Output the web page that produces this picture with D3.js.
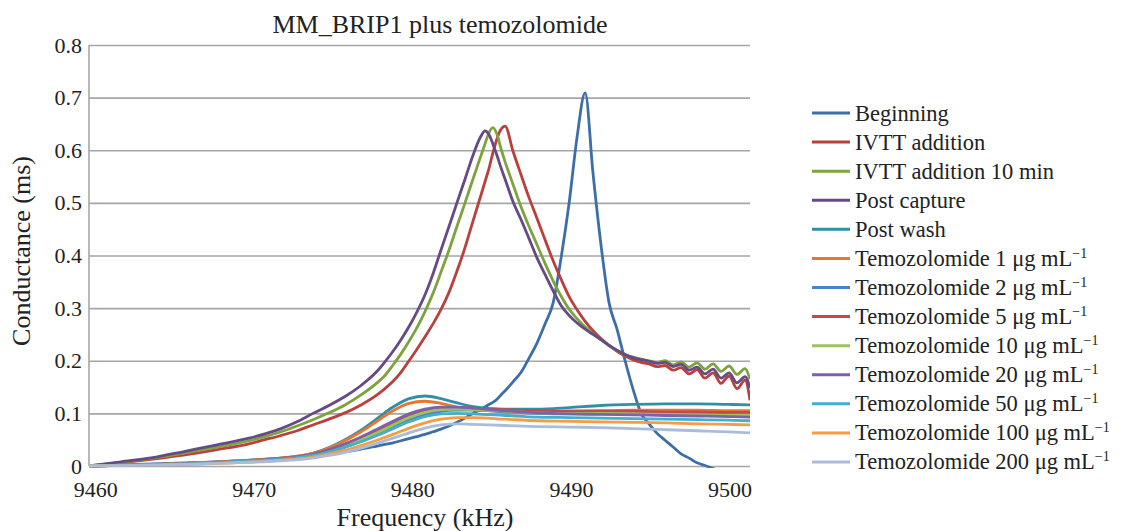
<!DOCTYPE html>
<html>
<head>
<meta charset="utf-8">
<script src="https://cdn.jsdelivr.net/npm/d3@7"></script>
<style>
  body { margin: 0; background: #fff; }
  svg { display: block; }
  text { font-family: 'Liberation Serif', 'Times New Roman', Tinos, 'DejaVu Serif', 'Noto Serif', serif; fill: #222; }
</style>
</head>
<body>
<svg id="chart"></svg>
<script>
const serif = "'Liberation Serif', 'Times New Roman', Tinos, 'DejaVu Serif', 'Noto Serif', serif";

// frequency grid (kHz) for the four large resonance curves
const freq = [9459.6, 9461.62, 9463.64, 9465.66, 9467.68, 9469.7, 9470.7, 9471.71, 9472.72, 9473.73, 9474.74, 9475.75, 9476.76, 9477.77,
  9478.27, 9478.78, 9479.28, 9479.79, 9480.29, 9480.79, 9481.3, 9481.8, 9482.31, 9482.81, 9483.32, 9483.82, 9484.33,
  9484.58, 9484.83, 9485.08, 9485.34, 9485.59, 9485.85,
  9486.35, 9486.86, 9487.36, 9487.87, 9488.37, 9488.88, 9489.38, 9489.89, 9490.39, 9490.9,
  9491.4, 9491.9, 9492.41, 9492.91, 9493.42, 9493.92, 9494.43, 9494.93, 9495.44, 9495.94,
  9496.45, 9496.95, 9497.46, 9497.96, 9498.46, 9498.97, 9499.47, 9499.98, 9500.48, 9500.99,
  9501.3];

const beginning = [0, 0.002, 0.004, 0.006, 0.008, 0.011, 0.013, 0.015, 0.017, 0.019, 0.023, 0.027, 0.032, 0.038,
  0.041, 0.044, 0.048, 0.052, 0.056, 0.06, 0.065, 0.07, 0.076, 0.083, 0.091, 0.1, 0.108,
  0.112, 0.117, 0.121, 0.127, 0.135, 0.143,
  0.16, 0.178, 0.205, 0.234, 0.27, 0.31, 0.395, 0.5, 0.625, 0.709,
  0.555, 0.42, 0.31, 0.26, 0.2, 0.146, 0.1, 0.08, 0.062, 0.049,
  0.036, 0.023, 0.015, 0.006, 0.001, -0.005, -0.01, -0.015, -0.02, -0.024,
  -0.026];

const ivtt = [0, 0.006, 0.013, 0.021, 0.031, 0.042, 0.05, 0.058, 0.067, 0.078, 0.089, 0.101, 0.116, 0.135,
  0.147, 0.161, 0.178, 0.2, 0.222, 0.245, 0.27, 0.297, 0.33, 0.37, 0.415, 0.465, 0.515,
  0.54, 0.565, 0.595, 0.622, 0.64, 0.646,
  0.598, 0.553, 0.51, 0.47, 0.43, 0.39, 0.355, 0.322, 0.297, 0.275,
  0.257, 0.242, 0.229, 0.218, 0.209, 0.202, 0.197, 0.194, 0.189, 0.191,
  0.182, 0.187, 0.175, 0.183, 0.167, 0.177, 0.157, 0.171, 0.147, 0.163,
  0.125];

const ivtt10 = [0, 0.007, 0.015, 0.025, 0.036, 0.048, 0.056, 0.065, 0.076, 0.088, 0.101, 0.116, 0.135, 0.158,
  0.172, 0.192, 0.213, 0.237, 0.263, 0.293, 0.328, 0.368, 0.41, 0.455, 0.5, 0.545, 0.59,
  0.612, 0.633, 0.643, 0.63, 0.603, 0.578,
  0.535, 0.492, 0.455, 0.42, 0.385, 0.352, 0.323, 0.298, 0.28, 0.264,
  0.251, 0.24, 0.229, 0.219, 0.212, 0.207, 0.203, 0.2, 0.197, 0.2,
  0.192, 0.198, 0.188, 0.196, 0.184, 0.194, 0.18, 0.19, 0.174, 0.185,
  0.165];

const postCapture = [0, 0.008, 0.016, 0.028, 0.04, 0.053, 0.061, 0.071, 0.084, 0.1, 0.115, 0.132, 0.153, 0.18,
  0.198, 0.218, 0.24, 0.265, 0.293, 0.325, 0.365, 0.41, 0.455, 0.5, 0.545, 0.59, 0.627,
  0.637, 0.63, 0.612, 0.59, 0.567, 0.545,
  0.502, 0.468, 0.432, 0.395, 0.364, 0.333, 0.305, 0.286, 0.272, 0.26,
  0.25, 0.24, 0.229, 0.22, 0.212, 0.206, 0.202, 0.199, 0.195, 0.197,
  0.189, 0.193, 0.182, 0.188, 0.175, 0.184, 0.167, 0.177, 0.158, 0.17,
  0.148];

// coarser frequency grid for the flat, low curves
const freqLow = [9459.6, 9462.63, 9465.66, 9468.69, 9471.71, 9473.73, 9474.74, 9475.75, 9476.76, 9477.77, 9478.78, 9479.79, 9480.79,
  9481.8, 9482.81, 9483.82, 9485.85, 9487.87, 9489.89, 9491.9, 9493.92, 9495.94, 9497.96, 9499.98, 9501.3];

const postWash = [0, 0.002, 0.005, 0.009, 0.015, 0.024, 0.035, 0.05, 0.068, 0.09, 0.112, 0.128, 0.133,
  0.128, 0.12, 0.113, 0.108, 0.108, 0.111, 0.115, 0.117, 0.118, 0.118, 0.117, 0.116];
const temo1 = [0, 0.002, 0.005, 0.009, 0.015, 0.024, 0.034, 0.048, 0.065, 0.085, 0.105, 0.119, 0.123,
  0.119, 0.112, 0.107, 0.104, 0.103, 0.104, 0.105, 0.106, 0.106, 0.106, 0.105, 0.105];
const temo2 = [0, 0.002, 0.004, 0.008, 0.013, 0.02, 0.027, 0.036, 0.047, 0.06, 0.074, 0.088, 0.098,
  0.104, 0.106, 0.106, 0.103, 0.1, 0.099, 0.099, 0.099, 0.098, 0.097, 0.096, 0.095];
const temo5 = [0, 0.002, 0.004, 0.008, 0.014, 0.022, 0.03, 0.04, 0.052, 0.066, 0.081, 0.095, 0.105,
  0.11, 0.111, 0.11, 0.107, 0.105, 0.104, 0.104, 0.104, 0.103, 0.103, 0.102, 0.102];
const temo10 = [0, 0.002, 0.004, 0.008, 0.013, 0.021, 0.029, 0.038, 0.05, 0.063, 0.078, 0.092, 0.102,
  0.107, 0.108, 0.107, 0.104, 0.101, 0.1, 0.1, 0.099, 0.098, 0.097, 0.096, 0.096];
const temo20 = [0, 0.002, 0.004, 0.008, 0.014, 0.022, 0.031, 0.042, 0.055, 0.07, 0.085, 0.099, 0.108,
  0.112, 0.112, 0.11, 0.105, 0.101, 0.099, 0.098, 0.097, 0.096, 0.095, 0.094, 0.093];
const temo50 = [0, 0.002, 0.004, 0.008, 0.013, 0.02, 0.027, 0.036, 0.046, 0.058, 0.071, 0.084, 0.094,
  0.099, 0.1, 0.099, 0.096, 0.093, 0.092, 0.091, 0.09, 0.089, 0.088, 0.087, 0.086];
const temo100 = [0, 0.001, 0.003, 0.006, 0.011, 0.017, 0.023, 0.03, 0.039, 0.049, 0.06, 0.072, 0.082,
  0.089, 0.092, 0.092, 0.089, 0.086, 0.085, 0.084, 0.083, 0.082, 0.08, 0.079, 0.078];
const temo200 = [0, 0.001, 0.003, 0.006, 0.01, 0.015, 0.02, 0.026, 0.034, 0.043, 0.053, 0.063, 0.072,
  0.078, 0.08, 0.079, 0.077, 0.075, 0.074, 0.073, 0.071, 0.069, 0.067, 0.065, 0.063];

const doses = [1, 2, 5, 10, 20, 50, 100, 200];
const stageNames = ['Beginning', 'IVTT addition', 'IVTT addition 10 min', 'Post capture', 'Post wash'];
const colors = ['#3d6ea8', '#b8403d', '#7da33f', '#654a84', '#2f90a8', '#e8762e', '#4f7fc8',
  '#c6494a', '#9cc45a', '#7e62a8', '#42aed0', '#f99a45', '#a9bdda'];

const xTicks = [9460, 9470, 9480, 9490, 9500];
const yTicks = [0, 0.1, 0.2, 0.3, 0.4, 0.5, 0.6, 0.7, 0.8];

const series = [
  {x: freq, v: beginning}, {x: freq, v: ivtt}, {x: freq, v: ivtt10}, {x: freq, v: postCapture},
  {x: freqLow, v: postWash}, {x: freqLow, v: temo1}, {x: freqLow, v: temo2}, {x: freqLow, v: temo5},
  {x: freqLow, v: temo10}, {x: freqLow, v: temo20}, {x: freqLow, v: temo50}, {x: freqLow, v: temo100},
  {x: freqLow, v: temo200}
];
const labels = stageNames.map(n => ({text: n, sup: ''}))
  .concat(doses.map(d => ({text: 'Temozolomide ' + d + ' \u03bcg mL', sup: '\u22121'})));

const margin = {top: 45, bottom: 65, left: 89, right: 374};
const W = 1124, H = 531;
const width = W - margin.left - margin.right;
const height = H - margin.top - margin.bottom;

const root = d3.select('#chart')
  .attr('width', W)
  .attr('height', H);

root.append('text')
  .attr('x', 440)
  .attr('y', 33)
  .attr('text-anchor', 'middle')
  .style('font-size', '26px')
  .text('MM_BRIP1 plus temozolomide');

const svg = root.append('g')
  .attr('transform', `translate(${margin.left}, ${margin.top})`);

const x = d3.scaleLinear()
  .domain([9459.6, 9501.3])
  .range([0, width]);

const y = d3.scaleLinear()
  .domain([0, 0.8])
  .range([height, 0]);

// gridlines + y tick labels
const yAxis = svg.append('g')
  .call(d3.axisLeft(y).tickValues(yTicks).tickSize(-width).tickPadding(7)
    .tickFormat(d => d === 0 ? '0' : d3.format('.1f')(d)));
yAxis.select('.domain').remove();
yAxis.selectAll('line').attr('stroke', '#a6a6a6').attr('stroke-width', 1.6);
yAxis.selectAll('text')
  .attr('fill', '#222')
  .style('font-family', serif)
  .style('font-size', '22px');

svg.append('line')
  .attr('x1', 0).attr('x2', 0)
  .attr('y1', 0).attr('y2', height)
  .attr('stroke', '#a6a6a6')
  .attr('stroke-width', 1.6);

const xAxis = svg.append('g')
  .attr('transform', `translate(0, ${height})`)
  .call(d3.axisBottom(x).tickValues(xTicks).tickSize(0).tickPadding(15).tickFormat(d3.format('d')));
xAxis.select('.domain').remove();
xAxis.selectAll('text')
  .attr('fill', '#222')
  .style('font-family', serif)
  .style('font-size', '22px');

root.append('text')
  .attr('x', 425)
  .attr('y', 526)
  .attr('text-anchor', 'middle')
  .style('font-size', '26px')
  .text('Frequency (kHz)');

root.append('text')
  .attr('transform', 'rotate(-90)')
  .attr('x', -251)
  .attr('y', 30)
  .attr('text-anchor', 'middle')
  .style('font-size', '26px')
  .text('Conductance (ms)');

svg.append('clipPath')
  .attr('id', 'plot-clip')
  .append('rect')
  .attr('x', 0).attr('y', -5)
  .attr('width', width).attr('height', height + 7);

const plot = svg.append('g').attr('clip-path', 'url(#plot-clip)');

series.forEach((s, i) => {
  const line = d3.line()
    .x((d, j) => x(s.x[j]))
    .y(d => y(d))
    .curve(d3.curveMonotoneX);

  plot.append('path')
    .datum(s.v)
    .attr('fill', 'none')
    .attr('stroke', colors[i])
    .attr('stroke-width', 2.8)
    .attr('stroke-linejoin', 'round')
    .attr('d', line);
});

// legend
const legend = root.append('g');
labels.forEach((l, i) => {
  const ly = 113 + i * 29.08;
  legend.append('line')
    .attr('x1', 812).attr('x2', 850)
    .attr('y1', ly).attr('y2', ly)
    .attr('stroke', colors[i])
    .attr('stroke-width', 3);
  const t = legend.append('text')
    .attr('x', 855)
    .attr('y', ly + 7.5)
    .style('font-size', '22.5px')
    .text(l.text);
  if (l.sup) {
    t.append('tspan')
      .attr('dy', -8)
      .style('font-size', '14px')
      .text(l.sup);
  }
});
</script>
</body>
</html>
